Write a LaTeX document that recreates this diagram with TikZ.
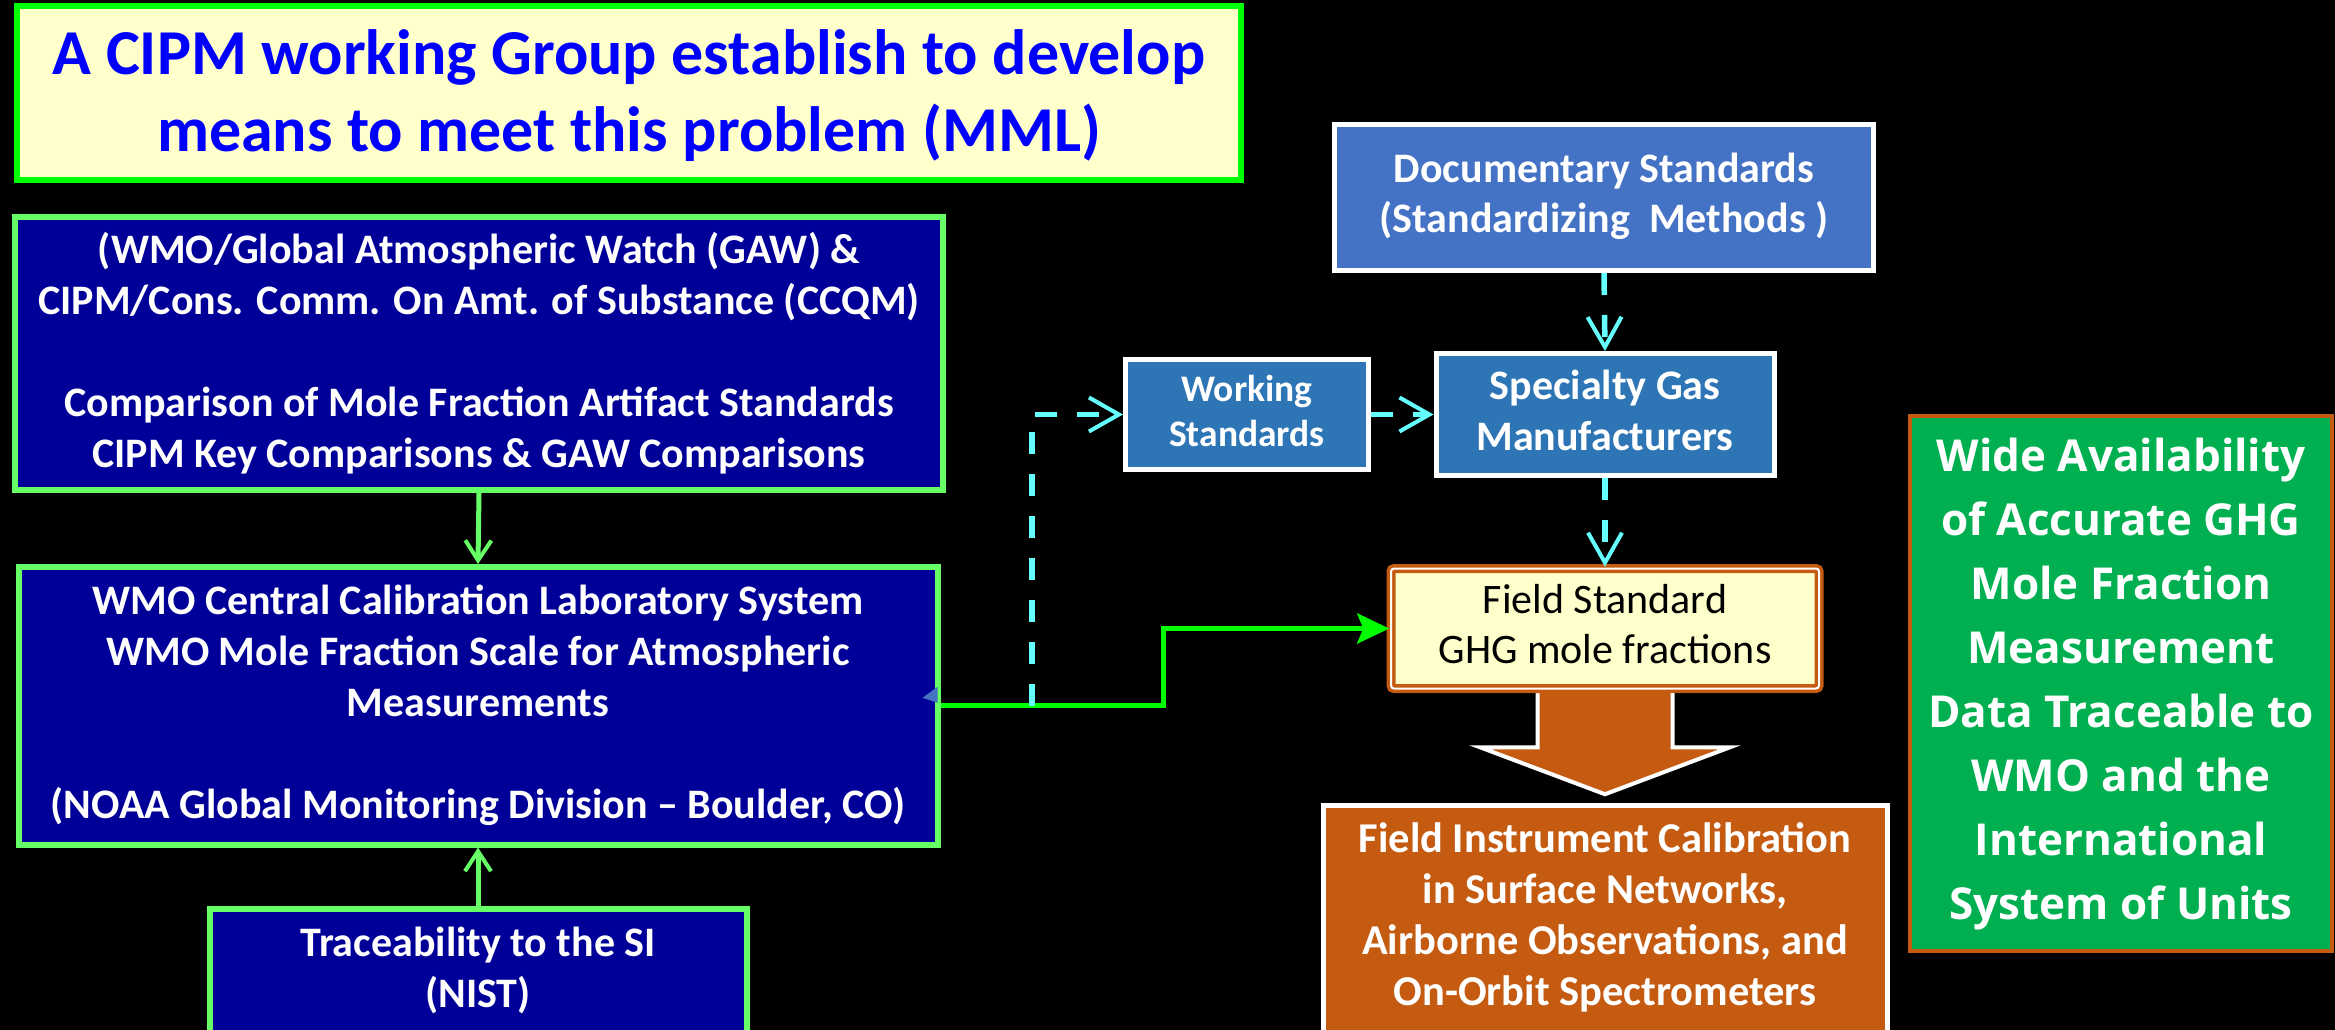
\documentclass[tikz,border=0pt]{standalone}
\usepackage{fontspec}
\setmainfont{Carlito}
\newfontfamily\headfont{Open Sans}
\usetikzlibrary{arrows.meta}
\pgfdeclarelayer{background}
\pgfsetlayers{background,main}

\definecolor{lemon}{HTML}{FFFFCC}
\definecolor{brightgreen}{HTML}{00FF00}
\definecolor{softgreen}{HTML}{66FF66}
\definecolor{navy}{HTML}{000099}
\definecolor{titleblue}{HTML}{0000FF}
\definecolor{steel}{HTML}{4472C4}
\definecolor{ocean}{HTML}{2E75B6}
\definecolor{rust}{HTML}{C55A11}
\definecolor{leaf}{HTML}{00B050}
\definecolor{aqua}{HTML}{66FFFF}

\begin{document}
\begin{tikzpicture}[x=1pt,y=-1pt,
  box/.style={rectangle, inner sep=0pt, align=center, text=white,
    font=\bfseries\fontsize{42}{51}\selectfont},
  titlebox/.style={box, fill=lemon, draw=brightgreen, line width=6pt, text=titleblue,
    font=\bfseries\fontsize{64}{77}\selectfont},
  navybox/.style={box, fill=navy, draw=softgreen, line width=6pt},
  stdbox/.style={box, fill=steel, draw=white, line width=5pt},
  gasbox/.style={box, fill=ocean, draw=white, line width=5pt},
  fieldbox/.style={box, fill=lemon, draw=rust, double=white, double distance=2pt,
    line width=3.5pt, rounded corners=3pt, text=black, font=\fontsize{42}{50}\selectfont},
  rustbox/.style={box, fill=rust, draw=white, line width=5pt},
  goalbox/.style={box, fill=leaf, draw=rust, line width=4pt,
    font=\headfont\bfseries\fontsize{44}{64}\selectfont},
  linkarrow/.style={draw=softgreen, line width=5pt,
    -{Straight Barb[length=20pt,width=26pt,line width=4pt]}},
  feedarrow/.style={draw=brightgreen, line width=5pt,
    -{Stealth[length=32pt,width=30pt,inset=6pt]}},
  dashline/.style={draw=aqua, line width=5.5pt, dash pattern=on 22pt off 20pt,
    -{Straight Barb[length=30pt,width=34pt,line width=4pt]}},
  bigarrow/.style={fill=rust, draw=white, line width=4pt, line join=miter},
]
\useasboundingbox (0,0) rectangle (2335,1030);
\begin{pgfonlayer}{background}
\fill[black] (0,0) rectangle (2335,1030);
\end{pgfonlayer}

% title banner
\node[titlebox, minimum width=1224pt, minimum height=174pt] (title) at (629,93)
  {\rule{0pt}{64pt}A CIPM working Group establish to develop\\\strut means to meet this problem (MML)};

% left column
\node[navybox, minimum width=928pt, minimum height=273pt] (gaw) at (479,353.5)
  {\rule{0pt}{40pt}(WMO/Global Atmospheric Watch (GAW) \&\\
   \strut CIPM/Cons. Comm. On Amt. of Substance (CCQM)\\
   \strut\\
   \strut Comparison of Mole Fraction Artifact Standards\\
   \strut CIPM Key Comparisons \& GAW Comparisons};
\node[navybox, minimum width=919pt, minimum height=277.5pt] (ccl) at (478,705.8)
  {\strut WMO Central Calibration Laboratory System\\
   \strut WMO Mole Fraction Scale for Atmospheric\\
   \strut Measurements\\
   \strut\\
   \strut(NOAA Global Monitoring Division -- Boulder, CO)};
\node[navybox, minimum width=537pt, minimum height=126pt] (nist) at (478,972)
  {\strut Traceability to the SI\\\strut(NIST)};

% standards chain
\node[stdbox, minimum width=539pt, minimum height=146pt,
  font=\bfseries\fontsize{42}{50}\selectfont] (doc) at (1604,197.5)
  {\strut Documentary Standards\\\strut(Standardizing\ \ Methods\ )};
\node[gasbox, minimum width=243pt, minimum height=110pt,
  font=\bfseries\fontsize{37.5}{45}\selectfont] (work) at (1247,414.5)
  {\strut Working\\\strut Standards};
\node[gasbox, minimum width=338pt, minimum height=122pt] (gas) at (1605,414.5)
  {\strut Specialty Gas\\\strut Manufacturers};
\node[fieldbox, minimum width=428pt, minimum height=120pt] (fstd) at (1605,628.5)
  {\strut Field Standard\\\strut GHG mole fractions};
\node[rustbox, minimum width=564pt, minimum height=227pt,
  font=\bfseries\fontsize{42.5}{51}\selectfont] (inst) at (1605,919)
  {\strut Field Instrument Calibration\\
   \strut in Surface Networks,\\
   \strut Airborne Observations, and\\
   \strut On-Orbit Spectrometers};

% outcome
\node[goalbox, minimum width=422pt, minimum height=535pt] (goal) at (2121,683)
  {\strut Wide Availability\\\strut of Accurate GHG\\\strut Mole Fraction\\
   \strut Measurement\\\strut Data Traceable to\\\strut WMO and the\\
   \strut International\\\strut System of Units};

% block arrow from field standard to field instruments
\begin{pgfonlayer}{background}
\filldraw[bigarrow] ([xshift=-67.5pt]fstd.south) -- ++(0,57) -- ++(-57.5,0)
  -- ++(125,47) -- ++(125,-47) -- ++(-57.5,0) -- ++(0,-57);
\end{pgfonlayer}

% solid connectors
\draw[linkarrow] (gaw.south) -- (ccl.north);
\draw[linkarrow] (nist.north) -- (ccl.south);
\coordinate (bend) at (1163,0);
\draw[feedarrow] (ccl.east) -| (bend |- fstd.west) -- (fstd.west);

% dashed connectors
\coordinate (split) at (1032,0);
\draw[dashline] (split |- ccl.east) |- (work.west);
\draw[dashline] (work.east) -- (gas.west);
\draw[dashline] (doc.south) -- (gas.north);
\draw[dashline] (gas.south) -- (fstd.north);

% small marker on the right edge of the calibration box
\fill[steel] ([xshift=-18pt,yshift=8pt]ccl.east) -- ([xshift=-3pt,yshift=19pt]ccl.east)
  -- ([xshift=-3pt,yshift=3pt]ccl.east) -- cycle;
\end{tikzpicture}
\end{document}
